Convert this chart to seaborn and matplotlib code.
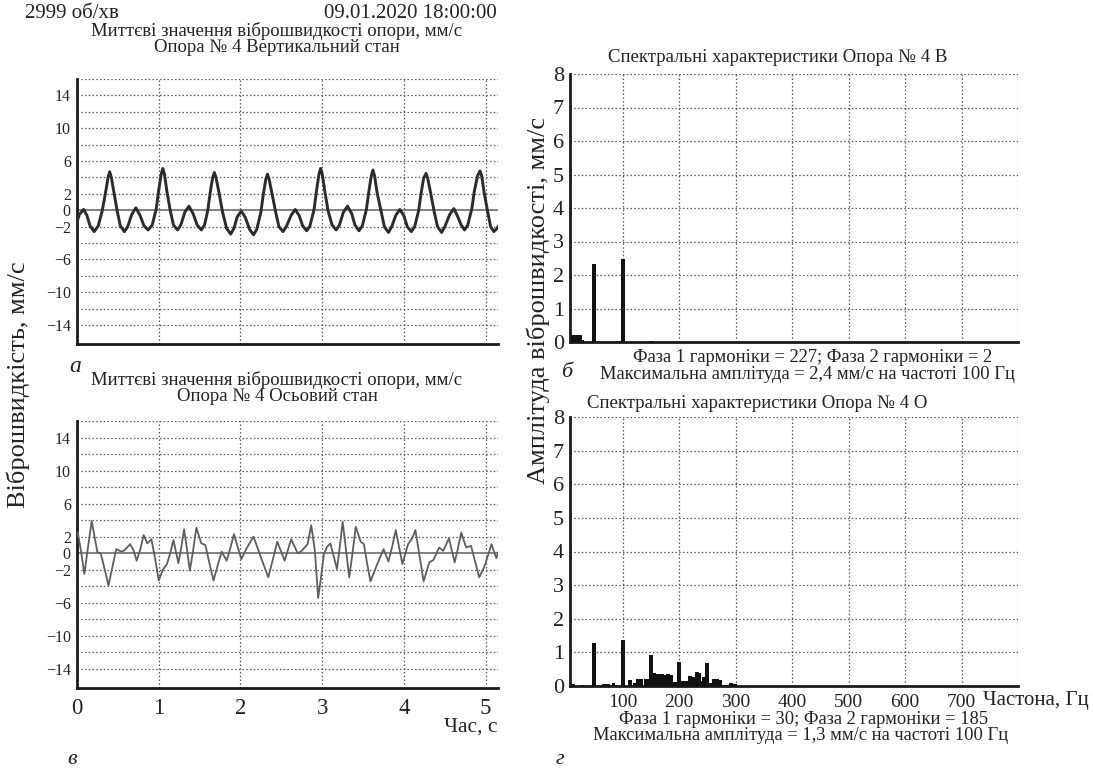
import numpy as np
import pandas as pd
import matplotlib
matplotlib.use("Agg")
import matplotlib.pyplot as plt
from matplotlib.ticker import MultipleLocator, FixedLocator, FuncFormatter, NullFormatter
import seaborn as sns

# ---------------- data ----------------
vert_t = [0.00, 0.03, 0.08, 0.12, 0.16, 0.21, 0.26, 0.31, 0.35, 0.38, 0.40, 0.42, 0.455, 0.49, 0.53, 0.58,
          0.62, 0.67, 0.72, 0.77, 0.82, 0.87, 0.92, 0.97, 1.00, 1.03, 1.05, 1.07, 1.10, 1.14, 1.18, 1.23,
          1.27, 1.32, 1.37, 1.42, 1.47, 1.52, 1.56, 1.60, 1.63, 1.66, 1.68, 1.70, 1.74, 1.78, 1.83, 1.88,
          1.92, 1.96, 2.01, 2.06, 2.11, 2.16, 2.20, 2.25, 2.28, 2.31, 2.33, 2.35, 2.39, 2.43, 2.47, 2.52,
          2.56, 2.62, 2.67, 2.72, 2.76, 2.81, 2.85, 2.90, 2.93, 2.96, 2.98, 3.00, 3.03, 3.07, 3.12, 3.17,
          3.21, 3.26, 3.31, 3.36, 3.40, 3.45, 3.49, 3.54, 3.57, 3.60, 3.62, 3.64, 3.67, 3.72, 3.76, 3.81,
          3.85, 3.90, 3.95, 4.00, 4.04, 4.09, 4.13, 4.18, 4.21, 4.24, 4.27, 4.29, 4.33, 4.37, 4.41, 4.46,
          4.50, 4.56, 4.61, 4.65, 4.70, 4.74, 4.78, 4.83, 4.86, 4.90, 4.93, 4.95, 4.98, 5.02, 5.06, 5.10,
          5.13, 5.17]
vert_v = [-1.4, -0.5, 0.1, -0.6, -1.9, -2.6, -1.9, 0.0, 2.2, 4.0, 4.7, 4.0, 2.0, 0.0, -1.9, -2.6,
          -2.0, -0.5, 0.3, -0.6, -1.9, -2.4, -1.8, 0.2, 2.5, 4.4, 5.1, 4.4, 2.3, 0.0, -1.8, -2.4,
          -1.8, -0.2, 0.5, -0.4, -1.8, -2.4, -1.8, 0.0, 2.2, 4.0, 4.6, 4.0, 2.0, -0.2, -2.2, -2.9,
          -2.2, -0.8, -0.1, -0.9, -2.3, -3.0, -2.3, -0.2, 2.0, 3.8, 4.4, 3.8, 1.8, -0.2, -2.0, -2.6,
          -2.0, -0.6, 0.1, -0.7, -1.9, -2.5, -1.9, 0.1, 2.4, 4.4, 5.1, 4.4, 2.4, 0.0, -1.8, -2.4,
          -1.8, -0.2, 0.5, -0.4, -1.8, -2.5, -1.9, 0.1, 2.3, 4.2, 4.9, 4.2, 2.2, -0.1, -2.0, -2.7,
          -2.0, -0.6, 0.1, -0.7, -2.0, -2.6, -2.0, 0.0, 2.1, 3.9, 4.5, 3.9, 1.9, -0.2, -2.0, -2.7,
          -2.0, -0.5, 0.2, -0.6, -1.8, -2.4, -1.8, 0.2, 2.3, 4.2, 4.8, 4.2, 2.2, 0.0, -2.0, -2.6,
          -2.3, -1.7]

axial_t = [0.00, 0.01, 0.05, 0.09, 0.13, 0.18, 0.215, 0.25, 0.29, 0.34, 0.385, 0.43, 0.48, 0.54, 0.58,
           0.65, 0.69, 0.73, 0.775, 0.815, 0.86, 0.91, 0.955, 1.00, 1.05, 1.10, 1.14, 1.18, 1.24, 1.275,
           1.31, 1.345, 1.38, 1.42, 1.46, 1.52, 1.57, 1.62, 1.67, 1.72, 1.77, 1.83, 1.875, 1.92, 1.965,
           2.01, 2.08, 2.16, 2.25, 2.34, 2.40, 2.45, 2.54, 2.62, 2.70, 2.75, 2.82, 2.865, 2.91, 2.95,
           2.98, 3.02, 3.06, 3.10, 3.18, 3.215, 3.25, 3.29, 3.33, 3.37, 3.41, 3.47, 3.51, 3.55, 3.59,
           3.67, 3.75, 3.81, 3.855, 3.90, 3.98, 4.05, 4.10, 4.14, 4.19, 4.24, 4.31, 4.36, 4.43, 4.48,
           4.55, 4.62, 4.66, 4.70, 4.76, 4.82, 4.87, 4.92, 4.98, 5.03, 5.07, 5.13, 5.16]
axial_v = [2.1, 2.5, 0.2, -2.5, 0.4, 3.9, 2.0, 0.1, 0.0, -2.0, -3.9, -1.8, 0.5, 0.2, 0.35,
           1.1, 0.4, -0.9, 0.5, 2.2, 1.2, 1.7, -0.6, -3.3, -2.0, -1.3, 0.0, 1.6, -1.2, 0.7,
           2.9, 0.5, -2.1, 0.3, 3.1, 1.2, 1.0, -1.2, -3.3, -1.5, 0.2, -0.9, 0.6, 2.3, 0.8,
           -0.7, 0.7, 2.0, -0.5, -2.9, -0.6, 1.4, -0.9, 1.7, 0.0, 0.3, 1.1, 3.4, 0.3, -5.4,
           -3.3, -0.1, 0.8, 1.2, -1.9, 0.8, 3.8, 0.5, -2.9, 0.0, 3.2, 1.4, 1.1, -1.3, -3.4,
           -1.4, 0.5, -1.0, 0.8, 2.8, -1.3, 1.1, 1.8, 2.8, -0.3, -3.4, -1.1, -0.8, 0.7, 0.3,
           1.8, -1.1, 0.6, 2.5, 0.7, 0.9, -1.0, -2.9, -1.7, -0.2, 1.1, -0.6, 0.3]

spec_v_freq = [12, 16, 20, 24, 28, 50, 98, 100, 150]
spec_v_amp = [0.22, 0.22, 0.22, 0.20, 0.05, 2.34, 0.04, 2.47, 0.04]

spec_a_freq = [12, 30, 50, 68, 75, 84, 100, 113, 122, 128, 133, 141, 145, 150, 155, 160, 165, 170, 175,
               180, 185, 190, 195, 200, 205, 211, 216, 220, 226, 231, 236, 240, 245, 250, 254, 261, 267,
               272, 278, 285, 292, 299]
spec_a_amp = [0.05, 0.03, 1.29, 0.05, 0.07, 0.10, 1.36, 0.18, 0.10, 0.20, 0.22, 0.20, 0.22, 0.92, 0.38,
              0.36, 0.35, 0.35, 0.34, 0.35, 0.33, 0.12, 0.12, 0.72, 0.15, 0.16, 0.15, 0.30, 0.27, 0.42,
              0.38, 0.15, 0.28, 0.67, 0.10, 0.22, 0.20, 0.18, 0.04, 0.04, 0.10, 0.05]

time_ticks = [0, 1, 2, 3, 4, 5]
vel_labels = [-14, -10, -6, -2, 0, 2, 6, 10, 14]
amp_ticks = [0, 1, 2, 3, 4, 5, 6, 7, 8]
freq_ticks = [100, 200, 300, 400, 500, 600, 700, 800]
freq_labels = ["100", "200", "300", "400", "500", "600", "700", ""]

# ---------------- style ----------------
sns.set_theme(style="white")
plt.rcParams["font.family"] = ["Liberation Serif", "DejaVu Serif"]
plt.rcParams["axes.unicode_minus"] = True
TXT = "#222222"

W, H = 1093, 771
fig = plt.figure(figsize=(W / 100, H / 100), dpi=100)


def frame(l, t, r, b):
    return [l / W, 1 - b / H, (r - l) / W, (b - t) / H]


ax_tl = fig.add_axes(frame(77, 79, 498, 344))
ax_bl = fig.add_axes(frame(77, 421, 498, 688))
ax_tr = fig.add_axes(frame(570, 74, 1018, 342))
ax_br = fig.add_axes(frame(570, 417, 1018, 686))

grid_kw = dict(color="#555555", linestyle=(0, (1.2, 1.8)), linewidth=0.9)


def style_common(ax):
    for s in ["top", "right"]:
        ax.spines[s].set_visible(False)
    for s in ["left", "bottom"]:
        ax.spines[s].set_color("#1a1a1a")
        ax.spines[s].set_linewidth(2.0)
    ax.set_facecolor("white")
    ax.tick_params(which="major", direction="out", length=5, width=1.2, color="#222222")
    ax.tick_params(which="minor", direction="out", length=3, width=1.0, color="#222222")
    ax.tick_params(axis="y", which="major", direction="inout", length=7)
    ax.tick_params(axis="y", which="minor", direction="inout", length=4)


def style_time(ax, show_x):
    style_common(ax)
    ax.set_xlim(0, 5.15)
    ax.set_ylim(-16.3, 16)
    ax.xaxis.set_major_locator(FixedLocator(time_ticks))
    ax.xaxis.set_minor_locator(MultipleLocator(0.2))
    ax.yaxis.set_major_locator(MultipleLocator(2))
    ax.yaxis.set_minor_locator(MultipleLocator(0.5))
    ax.yaxis.set_major_formatter(FuncFormatter(
        lambda v, p: (f"{int(round(v))}".replace("-", "\u2212") if int(round(v)) in vel_labels else "")))
    ax.tick_params(axis="y", labelsize=11.5, labelcolor=TXT, pad=1)
    ax.tick_params(axis="x", labelsize=16.5, labelcolor=TXT, pad=2)
    if not show_x:
        ax.xaxis.set_major_formatter(NullFormatter())
    for x in time_ticks[1:]:
        ax.axvline(x, **grid_kw, zorder=1)
    for y in np.arange(-14, 17, 2):
        if y != 0:
            ax.axhline(y, **grid_kw, zorder=1)
    ax.axhline(0, color="#777777", linewidth=1.3, zorder=2)
    ax.set_xlabel("")
    ax.set_ylabel("")


def style_spec(ax, show_x):
    style_common(ax)
    ax.set_xlim(7, 800)
    ax.set_ylim(0, 8)
    ax.xaxis.set_major_locator(FixedLocator(freq_ticks))
    ax.xaxis.set_minor_locator(MultipleLocator(12.5))
    ax.yaxis.set_major_locator(FixedLocator(amp_ticks))
    ax.yaxis.set_minor_locator(MultipleLocator(0.2))
    ax.tick_params(axis="y", labelsize=16, labelcolor=TXT, pad=1)
    ax.tick_params(axis="x", labelsize=14, labelcolor=TXT, pad=1)
    if show_x:
        ax.set_xticks(freq_ticks)
        ax.set_xticklabels(freq_labels)
    else:
        ax.xaxis.set_major_formatter(NullFormatter())
    for x in freq_ticks:
        ax.axvline(x, **grid_kw, zorder=1)
    for y in amp_ticks[1:]:
        ax.axhline(y, **grid_kw, zorder=1)
    ax.set_xlabel("")
    ax.set_ylabel("")


# ---------------- time signals ----------------
df_v = pd.DataFrame({"t": vert_t, "v": vert_v})
df_a = pd.DataFrame({"t": axial_t, "v": axial_v})
sns.lineplot(data=df_v, x="t", y="v", ax=ax_tl, color="#2b2b2b", linewidth=2.1,
             estimator=None, sort=False, zorder=3)
sns.lineplot(data=df_a, x="t", y="v", ax=ax_bl, color="#5e5e5e", linewidth=1.3,
             estimator=None, sort=False, zorder=3)
style_time(ax_tl, False)
style_time(ax_bl, True)

# ---------------- spectra ----------------
ax_tr.bar(spec_v_freq, spec_v_amp, width=7, color="#111111", linewidth=0, zorder=3)
ax_br.bar(spec_a_freq, spec_a_amp, width=7, color="#111111", linewidth=0, zorder=3)
style_spec(ax_tr, False)
style_spec(ax_br, True)


# ---------------- texts ----------------
def ftext(x, y, s, **kw):
    kw.setdefault("color", TXT)
    fig.text(x / W, 1 - y / H, s, va="center", **kw)


ftext(25, 13, "2999 об/хв", ha="left", fontsize=15)
ftext(497, 13, "09.01.2020 18:00:00", ha="right", fontsize=15)
ftext(277, 31, "Миттєві значення віброшвидкості опори, мм/с", ha="center", fontsize=13.5)
ftext(277, 48, "Опора № 4 Вертикальний стан", ha="center", fontsize=13.5)
ftext(75, 367, "а", ha="center", fontsize=17, style="italic")
ftext(277, 380, "Миттєві значення віброшвидкості опори, мм/с", ha="center", fontsize=13.5)
ftext(277, 397, "Опора № 4 Осьовий стан", ha="center", fontsize=13.5)
ftext(497, 727, "Час, с", ha="right", fontsize=15.5)
ftext(72, 760, "в", ha="center", fontsize=16, style="italic")
ftext(18, 385, "Віброшвидкість, мм/с", ha="center", fontsize=19, rotation=90)

ftext(538, 300, "Амплітуда віброшвидкості, мм/с", ha="center", fontsize=19, rotation=90)
ftext(778, 57, "Спектральні характеристики Опора № 4 В", ha="center", fontsize=13.5)
ftext(813, 357, "Фаза 1 гармоніки = 227; Фаза 2 гармоніки = 2", ha="center", fontsize=13.3)
ftext(807, 374, "Максимальна амплітуда = 2,4 мм/с на частоті 100 Гц", ha="center", fontsize=13.3)
ftext(567, 372, "б", ha="center", fontsize=16, style="italic")
ftext(757, 403, "Спектральні характеристики Опора № 4 О", ha="center", fontsize=13.5)
ftext(983, 700, "Частона, Гц", ha="left", fontsize=15)
ftext(804, 719, "Фаза 1 гармоніки = 30; Фаза 2 гармоніки = 185", ha="center", fontsize=13.3)
ftext(801, 735, "Максимальна амплітуда = 1,3 мм/с на частоті 100 Гц", ha="center", fontsize=13.3)
ftext(560, 760, "г", ha="center", fontsize=16, style="italic")

fig.savefig("out.png", dpi=100, facecolor="white")
